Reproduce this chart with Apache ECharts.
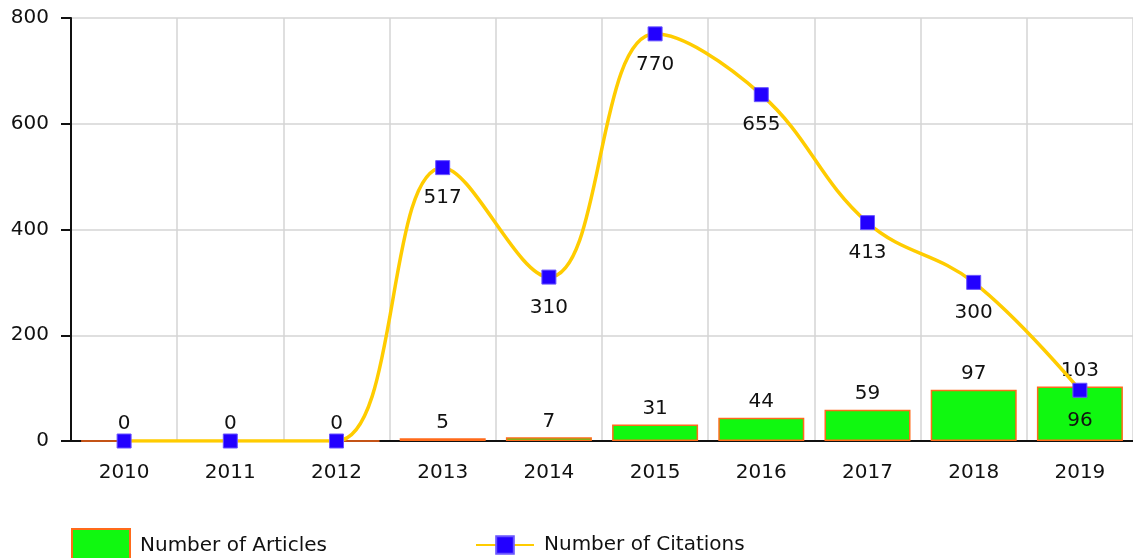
<!DOCTYPE html>
<html>
<head>
<meta charset="utf-8">
<script src="https://cdn.jsdelivr.net/npm/echarts@6/dist/echarts.min.js"></script>
<style>
  html, body { margin: 0; padding: 0; background: #fff; }
  #main { width: 1133px; height: 558px; }
</style>
</head>
<body>
<div id="main"></div>
<script>
  // chart data
  const years = ['2010', '2011', '2012', '2013', '2014', '2015', '2016', '2017', '2018', '2019']
  const articles = [0, 0, 0, 5, 7, 31, 44, 59, 97, 103]
  const citations = [0, 0, 0, 517, 310, 770, 655, 413, 300, 96]
  const yTicks = [0, 200, 400, 600, 800]

  const font = 'DejaVu Sans, Verdana, sans-serif'
  const legendText = { fontSize: 20, color: '#111', fontFamily: font, padding: [0, 0, 0, 5] }
  let chart = echarts.init(document.getElementById('main'))
  chart.setOption({
    animation: false,
    textStyle: { fontFamily: font },
    grid: { left: 71, right: 0, top: 18, bottom: 117 },
    legend: [
      {
        left: 71,
        top: 528,
        padding: 0,
        itemWidth: 58,
        itemHeight: 34,
        icon: 'rect',
        textStyle: legendText,
        data: ['Number of Articles']
      },
      {
        left: 475,
        top: 535,
        padding: 0,
        itemWidth: 58,
        itemHeight: 22,
        textStyle: legendText,
        data: ['Number of Citations']
      }
    ],
    xAxis: {
      type: 'category',
      data: years,
      boundaryGap: true,
      axisLine: { lineStyle: { color: '#111', width: 2 } },
      axisTick: { alignWithLabel: true, length: 10, lineStyle: { color: '#111', width: 2 } },
      axisLabel: { fontSize: 20, color: '#111', margin: 22 },
      splitLine: { show: true, interval: 0, lineStyle: { color: '#d4d4d4', width: 1.5 } }
    },
    yAxis: {
      type: 'value',
      min: yTicks[0],
      max: yTicks[yTicks.length - 1],
      interval: 200,
      axisLine: { show: true, lineStyle: { color: '#111', width: 2 } },
      axisTick: { show: true, length: 10, lineStyle: { color: '#111', width: 2 } },
      axisLabel: { fontSize: 20, color: '#111', margin: 22 },
      splitLine: { lineStyle: { color: '#d4d4d4', width: 1.5 } }
    },
    series: [
      {
        name: 'Number of Articles',
        type: 'bar',
        data: articles,
        barWidth: 86,
        itemStyle: { color: '#10f810', borderColor: '#ff6a1a', borderWidth: 1.5 },
        label: { show: true, position: 'top', fontSize: 20, color: '#111', distance: 6 }
      },
      {
        name: 'Number of Citations',
        type: 'line',
        data: citations,
        smooth: 0.4,
        symbol: 'rect',
        symbolSize: 14,
        lineStyle: { color: '#ffcc00', width: 3.5 },
        itemStyle: { color: '#2200ff', borderColor: '#6a55ff', borderWidth: 1 },
        label: {
          show: true, position: 'bottom', fontSize: 20, color: '#111', distance: 13,
          formatter: p => p.value === 0 ? '' : p.value
        },
        z: 3
      }
    ]
  })
</script>
</body>
</html>
